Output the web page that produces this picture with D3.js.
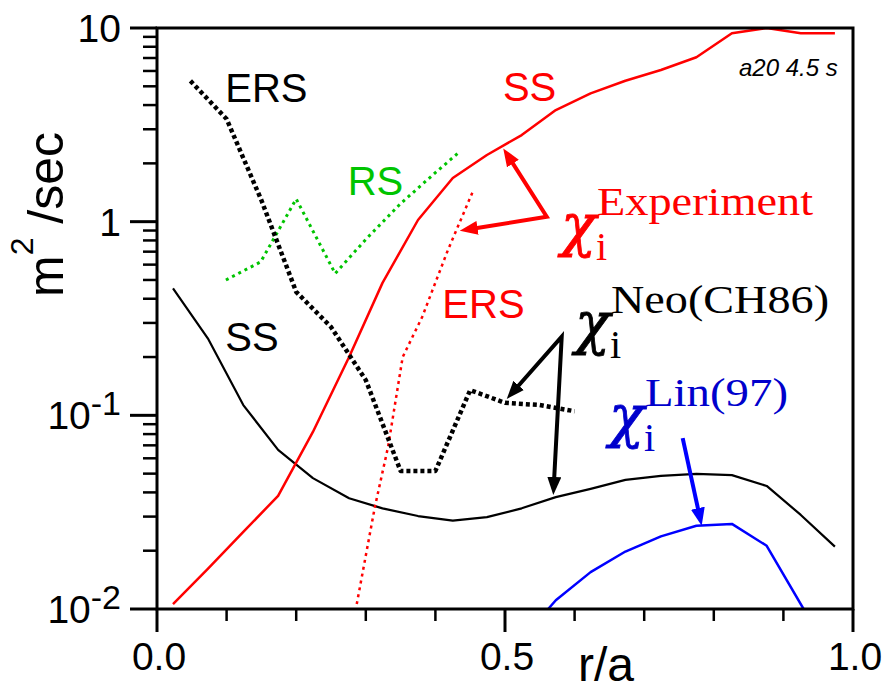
<!DOCTYPE html>
<html>
<head>
<meta charset="utf-8">
<script src="https://cdn.jsdelivr.net/npm/d3@7"></script>
<style>
  body { margin: 0; background: #fff; }
  svg { display: block; }
  .sans { font-family: "Liberation Sans", Arial, sans-serif; }
  .serif { font-family: "Liberation Serif", "Times New Roman", serif; }
  .chi { font-family: "DejaVu Serif", serif; font-style: italic; }
</style>
</head>
<body>
<svg id="chart" width="896" height="694"></svg>
<script>
// r/a grid of the two steady-state (SS) profiles
const rSS = [0.023, 0.073, 0.124, 0.174, 0.224, 0.276, 0.324, 0.375, 0.425, 0.474,
             0.524, 0.573, 0.623, 0.673, 0.724, 0.775, 0.826, 0.876, 0.925, 0.974];
const chiExpSS = [0.0106, 0.0161, 0.0250, 0.0384, 0.0821, 0.200, 0.483, 1.02, 1.68, 2.21,
                  2.80, 3.77, 4.60, 5.34, 6.07, 7.06, 9.39, 10.0, 9.39, 9.39];
const chiNeoSS = [0.453, 0.250, 0.113, 0.0663, 0.0474, 0.0373, 0.0331, 0.0302, 0.0286, 0.0298,
                  0.0331, 0.0378, 0.0417, 0.0464, 0.0487, 0.0498, 0.0491, 0.0432, 0.0306, 0.0210];

// enhanced reversed shear (ERS), neoclassical
const rNeoERS = [0.048, 0.10, 0.15, 0.20, 0.25, 0.30, 0.35, 0.40, 0.45, 0.50, 0.55, 0.60];
const chiNeoERS = [5.33, 3.39, 1.29, 0.434, 0.286, 0.152, 0.0516, 0.0516, 0.135, 0.116, 0.113, 0.105];

// ERS, experiment
const rExpERS = [0.287, 0.313, 0.332, 0.353, 0.381, 0.418, 0.453];
const chiExpERS = [0.0106, 0.0336, 0.0687, 0.200, 0.322, 0.714, 1.41];

// reversed shear (RS)
const rRS = [0.099, 0.149, 0.200, 0.256, 0.300, 0.350, 0.400, 0.435];
const chiRS = [0.50, 0.62, 1.31, 0.54, 0.81, 1.24, 1.79, 2.30];

// Lin (97)
const rLin = [0.562, 0.573, 0.623, 0.673, 0.724, 0.775, 0.826, 0.876, 0.929];
const chiLin = [0.0100, 0.0111, 0.0155, 0.0198, 0.0237, 0.0269, 0.0275, 0.0212, 0.0100];

// ticks
const xMajor = [0, 0.5, 1];
const xTickLabels = ['0.0', '0.5', '1.0'];
const yMajor = [10, 1, 0.1, 0.01];
const yTickBase = ['10', '1', '10', '10'];
const yTickExp = ['', '', '-1', '-2'];

const svg = d3.select('#chart');
const x = d3.scaleLinear().domain([0, 1]).range([157, 853]);
const y = d3.scaleLog().domain([0.01, 10]).range([609, 28]);

svg.append('clipPath').attr('id', 'plotclip').append('rect')
    .attr('x', x(0)).attr('y', y(10))
    .attr('width', x(1) - x(0)).attr('height', y(0.01) - y(10));

const plot = svg.append('g').attr('clip-path', 'url(#plotclip)');
const line = d3.line().x(d => x(d[0])).y(d => y(d[1]));

function curve(rs, vals, color, width, dash) {
  plot.append('path')
      .datum(d3.zip(rs, vals))
      .attr('d', line)
      .attr('fill', 'none')
      .attr('stroke', color)
      .attr('stroke-width', width)
      .attr('stroke-linejoin', 'round')
      .attr('stroke-dasharray', dash || null);
}

curve(rSS, chiNeoSS, '#000', 2.2);
curve(rSS, chiExpSS, '#ff0000', 2.5);
curve(rLin, chiLin, '#0000ff', 2.5);
curve(rExpERS, chiExpERS, '#ff0000', 2.5, '3,4');
curve(rRS, chiRS, '#00c400', 3, '3,4');
curve(rNeoERS, chiNeoERS, '#000', 4.5, '4,3');

// frame and ticks
const axes = svg.append('g').attr('stroke', '#000');
axes.append('rect')
    .attr('x', x(0)).attr('y', y(10))
    .attr('width', x(1) - x(0)).attr('height', y(0.01) - y(10))
    .attr('fill', 'none').attr('stroke-width', 3);

y.ticks().forEach(function(v) {
  var major = Math.abs(Math.log10(v) - Math.round(Math.log10(v))) < 1e-6;
  axes.append('line')
      .attr('x1', major ? 130 : 143).attr('x2', x(0))
      .attr('y1', y(v)).attr('y2', y(v))
      .attr('stroke-width', major ? 3 : 2.5);
});

d3.range(0, 11).forEach(function(i) {
  var v = i / 10;
  var major = i % 5 === 0;
  axes.append('line')
      .attr('x1', x(v)).attr('x2', x(v))
      .attr('y1', y(0.01)).attr('y2', y(0.01) + (major ? 23 : 12))
      .attr('stroke-width', major ? 3 : 2.5);
});

// tick labels
const yLab = svg.append('g').attr('class', 'sans').attr('font-size', 39).attr('text-anchor', 'end');
yMajor.forEach(function(v, i) {
  var t = yLab.append('text').attr('x', 121).attr('y', y(v) + 14).text(yTickBase[i]);
  if (yTickExp[i]) {
    t.append('tspan').attr('dy', -14).attr('font-size', 34).text(yTickExp[i]);
  }
});

svg.append('g').attr('class', 'sans').attr('font-size', 39).attr('text-anchor', 'middle')
  .selectAll('text').data(xMajor).join('text')
    .attr('x', d => x(d) + 2)
    .attr('y', 670)
    .text((d, i) => xTickLabels[i]);

// axis titles
svg.append('text').attr('class', 'sans').attr('font-size', 48)
    .attr('x', 578).attr('y', 681).text('r/a');

var yt = svg.append('text').attr('class', 'sans').attr('font-size', 50)
    .attr('transform', 'translate(63,297) rotate(-90)');
yt.append('tspan').text('m');
yt.append('tspan').attr('dy', -30).attr('font-size', 32).text('2');
yt.append('tspan').attr('dy', 30).text('\u00a0/sec');

// curve tags, anchored in data coordinates
function tag(r, v, txt, color) {
  svg.append('text').attr('class', 'sans').attr('font-size', 40)
      .attr('x', x(r)).attr('y', y(v)).attr('fill', color).text(txt);
}
tag(0.098, 4.15, 'ERS', '#000');
tag(0.098, 0.215, 'SS', '#000');
tag(0.274, 1.374, 'RS', '#00c400');
tag(0.497, 4.2, 'SS', '#ff0000');
tag(0.41, 0.318, 'ERS', '#ff0000');

svg.append('text').attr('class', 'sans').attr('font-size', 24).attr('font-style', 'italic')
    .attr('text-anchor', 'end')
    .attr('x', x(0.978)).attr('y', y(5.65)).text('a20 4.5 s');

// chi labels
function chiLabel(r, v, sup, color, supWidth) {
  var g = svg.append('g').attr('fill', color)
      .attr('transform', 'translate(' + x(r) + ',' + y(v) + ')');
  g.append('text').attr('class', 'chi').attr('font-size', 58)
      .attr('stroke', color).attr('stroke-width', 0.8).text('\u03c7');
  g.append('text').attr('class', 'serif').attr('x', 35).attr('y', 15).attr('font-size', 40).text('i');
  g.append('text').attr('class', 'serif').attr('x', 36).attr('y', -30).attr('font-size', 39)
      .attr('textLength', supWidth).attr('lengthAdjust', 'spacingAndGlyphs').text(sup);
}
chiLabel(0.5805, 0.758, 'Experiment', '#ff0000', 216);
chiLabel(0.6006, 0.2365, 'Neo(CH86)', '#000', 218);
chiLabel(0.6494, 0.0783, 'Lin(97)', '#0000cc', 143);

// arrows
const defs = svg.append('defs');
function head(id, color) {
  defs.append('marker').attr('id', id)
      .attr('viewBox', '0 0 18 14').attr('markerWidth', 18).attr('markerHeight', 14)
      .attr('markerUnits', 'userSpaceOnUse').attr('refX', 2).attr('refY', 7)
      .attr('orient', 'auto-start-reverse')
    .append('path').attr('d', 'M0,0 L18,7 L0,14 Z').attr('fill', color);
}
head('hr', '#ff0000');
head('hk', '#000');
head('hb', '#0000ff');

function shorten(from, to) {
  var fx = x(from[0]), fy = y(from[1]), tx = x(to[0]), ty = y(to[1]);
  var len = Math.hypot(tx - fx, ty - fy);
  return [tx - (tx - fx) / len * 16, ty - (ty - fy) / len * 16];
}
function arrows(tips, join, color, id) {
  var pts = [shorten(join, tips[0]), [x(join[0]), y(join[1])]];
  if (tips[1]) pts.push(shorten(join, tips[1]));
  var p = svg.append('path')
      .attr('d', d3.line()(pts))
      .attr('fill', 'none').attr('stroke', color).attr('stroke-width', 4)
      .attr('stroke-linejoin', 'miter')
      .attr('marker-start', 'url(#' + id + ')');
  if (tips[1]) p.attr('marker-end', 'url(#' + id + ')');
}
arrows([[0.4975, 2.39], [0.435, 0.898]], [0.56, 1.06], '#ff0000', 'hr');
arrows([[0.5025, 0.1215], [0.5694, 0.0388]], [0.5815, 0.255], '#000', 'hk');
arrows([[0.7826, 0.0269]], [0.7553, 0.0762], '#0000ff', 'hb');
</script>
</body>
</html>
